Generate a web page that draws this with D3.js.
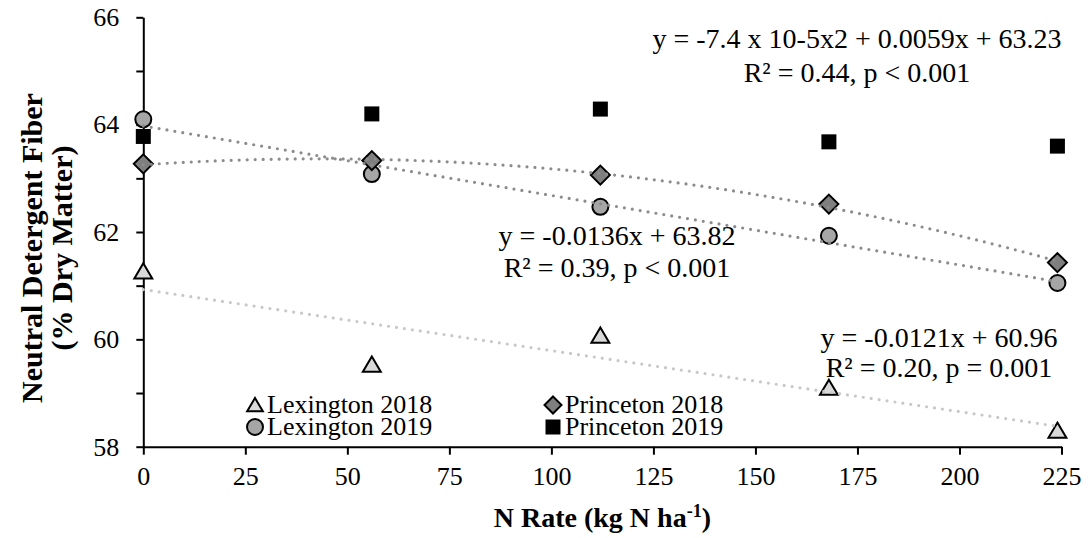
<!DOCTYPE html>
<html><head><meta charset="utf-8">
<script src="https://cdn.jsdelivr.net/npm/d3@7"></script>
<style>body{margin:0;background:#fff}svg{display:block}</style>
</head><body><svg id="c" width="1088" height="538"></svg>
<script>
const nRates = [0, 56, 112, 168, 224];
const lex2018 = [61.27, 59.53, 60.07, 59.10, 58.30];
const lex2019 = [64.10, 63.08, 62.47, 61.93, 61.05];
const pri2018 = [63.27, 63.33, 63.06, 62.52, 61.43];
const pri2019 = [63.78, 64.20, 64.29, 63.68, 63.60];
const xTicks = [0, 25, 50, 75, 100, 125, 150, 175, 200, 225];
const yTicks = [58, 59, 60, 61, 62, 63, 64, 65, 66];
const yLabels = [58, 60, 62, 64, 66];
const eqPri2018 = ["y = -7.4 x 10-5x2 + 0.0059x + 63.23", "R² = 0.44, p < 0.001"];
const eqLex2019 = ["y = -0.0136x + 63.82", "R² = 0.39, p < 0.001"];
const eqLex2018 = ["y = -0.0121x + 60.96", "R² = 0.20, p = 0.001"];
const legendNames = ["Lexington 2018", "Lexington 2019", "Princeton 2018", "Princeton 2019"];

const FONT = "Liberation Serif";
const svg = d3.select("#c");
const x = d3.scaleLinear().domain([0, 225]).range([143.3, 1061.5]);
const y = d3.scaleLinear().domain([58, 66]).range([446.7, 17.3]);

// axes
const gx = svg.append("g").attr("transform", `translate(0,${y(58)})`)
  .call(d3.axisBottom(x).tickValues(xTicks).tickSize(8).tickPadding(12).tickSizeOuter(0));
const gy = svg.append("g").attr("transform", `translate(${x(0)},0)`)
  .call(d3.axisLeft(y).tickValues(yTicks).tickSize(7).tickPadding(17).tickSizeOuter(0)
    .tickFormat(d => yLabels.includes(d) ? d : ""));
[gx, gy].forEach(g => {
  g.attr("font-family", FONT).attr("font-size", 26);
  g.select(".domain").attr("stroke", "#000").attr("stroke-width", 2);
  g.selectAll(".tick line").attr("stroke", "#000").attr("stroke-width", 2);
  g.selectAll(".tick text").attr("font-family", FONT).attr("font-size", 26).attr("fill", "#000");
});

// axis titles
const xt = svg.append("text").attr("x", (x(0) + x(225)) / 2).attr("y", 527)
  .attr("text-anchor", "middle").attr("font-family", FONT).attr("font-size", 28).attr("font-weight", "bold");
xt.append("tspan").text("N Rate (kg N ha");
xt.append("tspan").text("-1").attr("font-size", 18).attr("dy", "-10");
xt.append("tspan").text(")").attr("dy", "10");

const yt = svg.append("g").attr("transform", `translate(0,248) rotate(-90)`);
yt.append("text").attr("x", 0).attr("y", 42).attr("text-anchor", "middle")
  .attr("font-family", FONT).attr("font-size", 30).attr("font-weight", "bold").text("Neutral Detergent Fiber");
yt.append("text").attr("x", 0).attr("y", 72).attr("text-anchor", "middle")
  .attr("font-family", FONT).attr("font-size", 30).attr("font-weight", "bold").text("(% Dry Matter)");

// marker shapes
const shapes = {
  tri: (s) => `M0,${-s*0.5}L${s*0.56},${s*0.45}L${-s*0.56},${s*0.45}Z`,
  circ: (s) => `M${s/2},0A${s/2},${s/2} 0 1,1 ${-s/2},0A${s/2},${s/2} 0 1,1 ${s/2},0Z`,
  dia: (s) => `M0,${-s/2}L${s/2},0L0,${s/2}L${-s/2},0Z`,
  sq: (s) => `M${-s/2},${-s/2}h${s}v${s}h${-s}Z`
};

const series = [
  {vals: lex2018, shape: "tri", size: 16, fill: "#d9d9d9", stroke: "#000"},
  {vals: lex2019, shape: "circ", size: 16, fill: "#a6a6a6", stroke: "#000"},
  {vals: pri2018, shape: "dia", size: 19, fill: "#7f7f7f", stroke: "#000"},
  {vals: pri2019, shape: "sq", size: 15, fill: "#000", stroke: "none"}
];

const mg = svg.append("g");
series.forEach(s => {
  mg.selectAll(null).data(s.vals.map((v, i) => [nRates[i], v])).enter().append("path")
    .attr("transform", d => `translate(${x(d[0])},${y(d[1])})`)
    .attr("d", shapes[s.shape](s.size))
    .attr("fill", s.fill).attr("stroke", s.stroke).attr("stroke-width", 2);
});

// least-squares fits (from data)
function linFit(xs, ys) {
  const mx = d3.mean(xs), my = d3.mean(ys);
  let sxy = 0, sxx = 0;
  xs.forEach((xi, i) => { sxy += (xi - mx) * (ys[i] - my); sxx += (xi - mx) ** 2; });
  const b = sxy / sxx; const a = my - b * mx;
  return t => a + b * t;
}
function quadFit(xs, ys) {
  const S = k => d3.sum(xs, xi => xi ** k);
  const T = k => d3.sum(xs, (xi, i) => ys[i] * xi ** k);
  const M = [[S(0), S(1), S(2), T(0)], [S(1), S(2), S(3), T(1)], [S(2), S(3), S(4), T(2)]];
  for (let i = 0; i < 3; i++) {
    for (let j = i + 1; j < 3; j++) {
      const f = M[j][i] / M[i][i];
      for (let k = i; k < 4; k++) M[j][k] -= f * M[i][k];
    }
  }
  const c = [0, 0, 0];
  for (let i = 2; i >= 0; i--) {
    let s = M[i][3];
    for (let k = i + 1; k < 3; k++) s -= M[i][k] * c[k];
    c[i] = s / M[i][i];
  }
  return t => c[0] + c[1] * t + c[2] * t * t;
}
const fits = [
  {f: linFit(nRates, lex2018), color: "#c8c8c8"},
  {f: linFit(nRates, lex2019), color: "#8c8c8c"},
  {f: quadFit(nRates, pri2018), color: "#8c8c8c"}
];
const line = d3.line().x(d => x(d[0])).y(d => y(d[1]));
fits.forEach(ft => {
  const pts = d3.range(0, 224.01, 4).map(t => [t, ft.f(t)]);
  svg.append("path").attr("d", line(pts)).attr("fill", "none")
    .attr("stroke", ft.color).attr("stroke-width", 3.2)
    .attr("stroke-dasharray", "0 8").attr("stroke-linecap", "round");
});

// equations
function eq(lines, cx, y0, gap) {
  lines.forEach((t, i) => svg.append("text").attr("x", cx).attr("y", y0 + i * gap)
    .attr("text-anchor", "middle").attr("font-family", FONT).attr("font-size", 28).text(t));
}
eq(eqPri2018, 857, 48, 34);
eq(eqLex2019, 617, 245, 32);
eq(eqLex2018, 939, 347, 30);

// legend
const legPos = [[255, 405], [255, 427], [553, 405], [553, 427]];
const legShape = [["tri", 14], ["circ", 16], ["dia", 17], ["sq", 15]];
legendNames.forEach((nm, i) => {
  const s = series[i];
  svg.append("path").attr("transform", `translate(${legPos[i][0]},${legPos[i][1]})`)
    .attr("d", shapes[legShape[i][0]](legShape[i][1]))
    .attr("fill", s.fill).attr("stroke", s.stroke).attr("stroke-width", 2);
  svg.append("text").attr("x", legPos[i][0] + 12).attr("y", legPos[i][1] + 8)
    .attr("font-family", FONT).attr("font-size", 26).text(nm);
});
</script></body></html>
